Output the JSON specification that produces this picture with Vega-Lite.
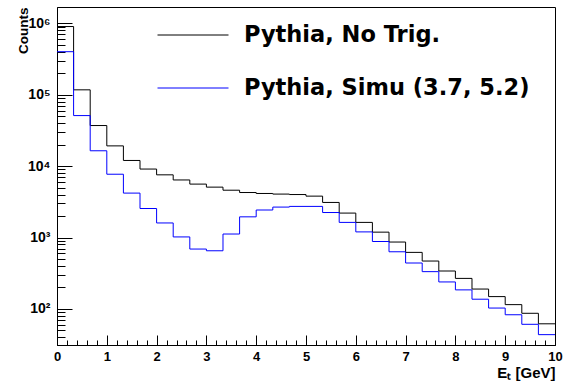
{
  "$schema": "https://vega.github.io/schema/vega-lite/v6.json",
  "width": 498,
  "height": 338,
  "autosize": {"type": "none"},
  "padding": {"left": 57, "top": 7, "right": 12, "bottom": 39},
  "background": "white",
  "config": {
    "font": "Liberation Sans",
    "view": {"stroke": "#000000", "strokeWidth": 1},
    "axis": {"grid": false, "zindex": 1, "domainColor": "#000000", "tickColor": "#000000", "labelColor": "#000000", "titleColor": "#000000"}
  },
  "datasets": {
    "hist": [
      {"series": "Pythia, No Trig.", "x": 0, "counts": 900000},
      {"series": "Pythia, No Trig.", "x": 0.3333, "counts": 117000},
      {"series": "Pythia, No Trig.", "x": 0.6667, "counts": 37000},
      {"series": "Pythia, No Trig.", "x": 1, "counts": 19200},
      {"series": "Pythia, No Trig.", "x": 1.3333, "counts": 12000},
      {"series": "Pythia, No Trig.", "x": 1.6667, "counts": 9100},
      {"series": "Pythia, No Trig.", "x": 2, "counts": 7550},
      {"series": "Pythia, No Trig.", "x": 2.3333, "counts": 6400},
      {"series": "Pythia, No Trig.", "x": 2.6667, "counts": 5600},
      {"series": "Pythia, No Trig.", "x": 3, "counts": 5080},
      {"series": "Pythia, No Trig.", "x": 3.3333, "counts": 4600},
      {"series": "Pythia, No Trig.", "x": 3.6667, "counts": 4270},
      {"series": "Pythia, No Trig.", "x": 4, "counts": 4140},
      {"series": "Pythia, No Trig.", "x": 4.3333, "counts": 4060},
      {"series": "Pythia, No Trig.", "x": 4.6667, "counts": 4000},
      {"series": "Pythia, No Trig.", "x": 5, "counts": 3800},
      {"series": "Pythia, No Trig.", "x": 5.3333, "counts": 3100},
      {"series": "Pythia, No Trig.", "x": 5.6667, "counts": 2200},
      {"series": "Pythia, No Trig.", "x": 6, "counts": 1630},
      {"series": "Pythia, No Trig.", "x": 6.3333, "counts": 1190},
      {"series": "Pythia, No Trig.", "x": 6.6667, "counts": 865},
      {"series": "Pythia, No Trig.", "x": 7, "counts": 620},
      {"series": "Pythia, No Trig.", "x": 7.3333, "counts": 469},
      {"series": "Pythia, No Trig.", "x": 7.6667, "counts": 340},
      {"series": "Pythia, No Trig.", "x": 8, "counts": 268},
      {"series": "Pythia, No Trig.", "x": 8.3333, "counts": 190},
      {"series": "Pythia, No Trig.", "x": 8.6667, "counts": 149},
      {"series": "Pythia, No Trig.", "x": 9, "counts": 115},
      {"series": "Pythia, No Trig.", "x": 9.3333, "counts": 87},
      {"series": "Pythia, No Trig.", "x": 9.6667, "counts": 62},
      {"series": "Pythia, No Trig.", "x": 10, "counts": 62},
      {"series": "Pythia, Simu (3.7, 5.2)", "x": 0, "counts": 400000},
      {"series": "Pythia, Simu (3.7, 5.2)", "x": 0.3333, "counts": 51000},
      {"series": "Pythia, Simu (3.7, 5.2)", "x": 0.6667, "counts": 16400},
      {"series": "Pythia, Simu (3.7, 5.2)", "x": 1, "counts": 7700},
      {"series": "Pythia, Simu (3.7, 5.2)", "x": 1.3333, "counts": 4190},
      {"series": "Pythia, Simu (3.7, 5.2)", "x": 1.6667, "counts": 2550},
      {"series": "Pythia, Simu (3.7, 5.2)", "x": 2, "counts": 1600},
      {"series": "Pythia, Simu (3.7, 5.2)", "x": 2.3333, "counts": 1020},
      {"series": "Pythia, Simu (3.7, 5.2)", "x": 2.6667, "counts": 690},
      {"series": "Pythia, Simu (3.7, 5.2)", "x": 3, "counts": 653},
      {"series": "Pythia, Simu (3.7, 5.2)", "x": 3.3333, "counts": 1120},
      {"series": "Pythia, Simu (3.7, 5.2)", "x": 3.6667, "counts": 1950},
      {"series": "Pythia, Simu (3.7, 5.2)", "x": 4, "counts": 2430},
      {"series": "Pythia, Simu (3.7, 5.2)", "x": 4.3333, "counts": 2670},
      {"series": "Pythia, Simu (3.7, 5.2)", "x": 4.6667, "counts": 2730},
      {"series": "Pythia, Simu (3.7, 5.2)", "x": 5, "counts": 2730},
      {"series": "Pythia, Simu (3.7, 5.2)", "x": 5.3333, "counts": 2240},
      {"series": "Pythia, Simu (3.7, 5.2)", "x": 5.6667, "counts": 1630},
      {"series": "Pythia, Simu (3.7, 5.2)", "x": 6, "counts": 1200},
      {"series": "Pythia, Simu (3.7, 5.2)", "x": 6.3333, "counts": 880},
      {"series": "Pythia, Simu (3.7, 5.2)", "x": 6.6667, "counts": 632},
      {"series": "Pythia, Simu (3.7, 5.2)", "x": 7, "counts": 440},
      {"series": "Pythia, Simu (3.7, 5.2)", "x": 7.3333, "counts": 333},
      {"series": "Pythia, Simu (3.7, 5.2)", "x": 7.6667, "counts": 239},
      {"series": "Pythia, Simu (3.7, 5.2)", "x": 8, "counts": 185},
      {"series": "Pythia, Simu (3.7, 5.2)", "x": 8.3333, "counts": 137},
      {"series": "Pythia, Simu (3.7, 5.2)", "x": 8.6667, "counts": 103},
      {"series": "Pythia, Simu (3.7, 5.2)", "x": 9, "counts": 83},
      {"series": "Pythia, Simu (3.7, 5.2)", "x": 9.3333, "counts": 61},
      {"series": "Pythia, Simu (3.7, 5.2)", "x": 9.6667, "counts": 43.7},
      {"series": "Pythia, Simu (3.7, 5.2)", "x": 10, "counts": 43.7}
    ]
  },
  "data": {"name": "hist"},
  "layer": [
    {
      "mark": {"type": "line", "interpolate": "step-after", "strokeWidth": 1, "clip": true},
      "encoding": {
        "x": {
          "field": "x", "type": "quantitative",
          "scale": {"domain": [0, 10], "nice": false, "zero": false},
          "axis": {
            "orient": "bottom",
            "values": [0, 1, 2, 3, 4, 5, 6, 7, 8, 9, 10],
            "tickSize": -10, "labelPadding": 15, "labelFlush": false,
            "labelFontSize": 13, "labelFontWeight": "bold", "labelBaseline": "top",
            "title": "Eₜ [GeV]", "titleFontSize": 15, "titleFontWeight": "bold",
            "titleAnchor": "end", "titleAlign": "right", "titleBaseline": "alphabetic",
            "titleX": 498, "titleY": 32
          }
        },
        "y": {
          "field": "counts", "type": "quantitative",
          "scale": {"type": "log", "domain": [31.3, 1690000], "nice": false},
          "axis": {
            "orient": "left",
            "values": [100, 1000, 10000, 100000, 1000000],
            "tickSize": -15, "labelPadding": 22,
            "labelFontSize": 14, "labelFontWeight": "bold",
            "labelExpr": "'10' + ['⁰','¹','²','³','⁴','⁵','⁶','⁷'][round(log(datum.value)/log(10))]",
            "title": "Counts", "titleFontSize": 13.5, "titleFontWeight": "bold",
            "titleAngle": 270, "titleAlign": "right", "titleBaseline": "alphabetic",
            "titleAnchor": "end", "titleX": -30, "titleY": 0
          }
        },
        "color": {
          "field": "series", "type": "nominal",
          "scale": {"domain": ["Pythia, No Trig.", "Pythia, Simu (3.7, 5.2)"], "range": ["#000000", "#0000ff"]},
          "legend": {
            "orient": "none", "legendX": 100, "legendY": 13, "title": null,
            "symbolType": "stroke", "symbolSize": 5041, "symbolStrokeWidth": 1,
            "symbolOffset": 0, "padding": 0, "clipHeight": 30, "rowPadding": 23,
            "labelFont": "DejaVu Sans", "labelFontWeight": "bold", "labelFontSize": 22.5,
            "labelOffset": 15, "labelLimit": 500, "labelColor": "#000000"
          }
        }
      }
    },
    {
      "mark": {"type": "line", "interpolate": "step-after", "strokeOpacity": 0},
      "encoding": {
        "x": {
          "field": "x", "type": "quantitative",
          "axis": {
            "orient": "bottom",
            "values": [0.2,0.4,0.6,0.8,1.2,1.4,1.6,1.8,2.2,2.4,2.6,2.8,3.2,3.4,3.6,3.8,4.2,4.4,4.6,4.8,5.2,5.4,5.6,5.8,6.2,6.4,6.6,6.8,7.2,7.4,7.6,7.8,8.2,8.4,8.6,8.8,9.2,9.4,9.6,9.8],
            "tickSize": -5, "labels": false, "domain": false, "title": null
          }
        },
        "y": {
          "field": "counts", "type": "quantitative",
          "axis": {
            "orient": "left",
            "values": [40,50,60,70,80,90,200,300,400,500,600,700,800,900,2000,3000,4000,5000,6000,7000,8000,9000,20000,30000,40000,50000,60000,70000,80000,90000,200000,300000,400000,500000,600000,700000,800000,900000],
            "tickSize": -8, "labels": false, "domain": false, "title": null
          }
        },
        "detail": {"field": "series", "type": "nominal"}
      }
    }
  ],
  "resolve": {"axis": {"x": "independent", "y": "independent"}}
}
